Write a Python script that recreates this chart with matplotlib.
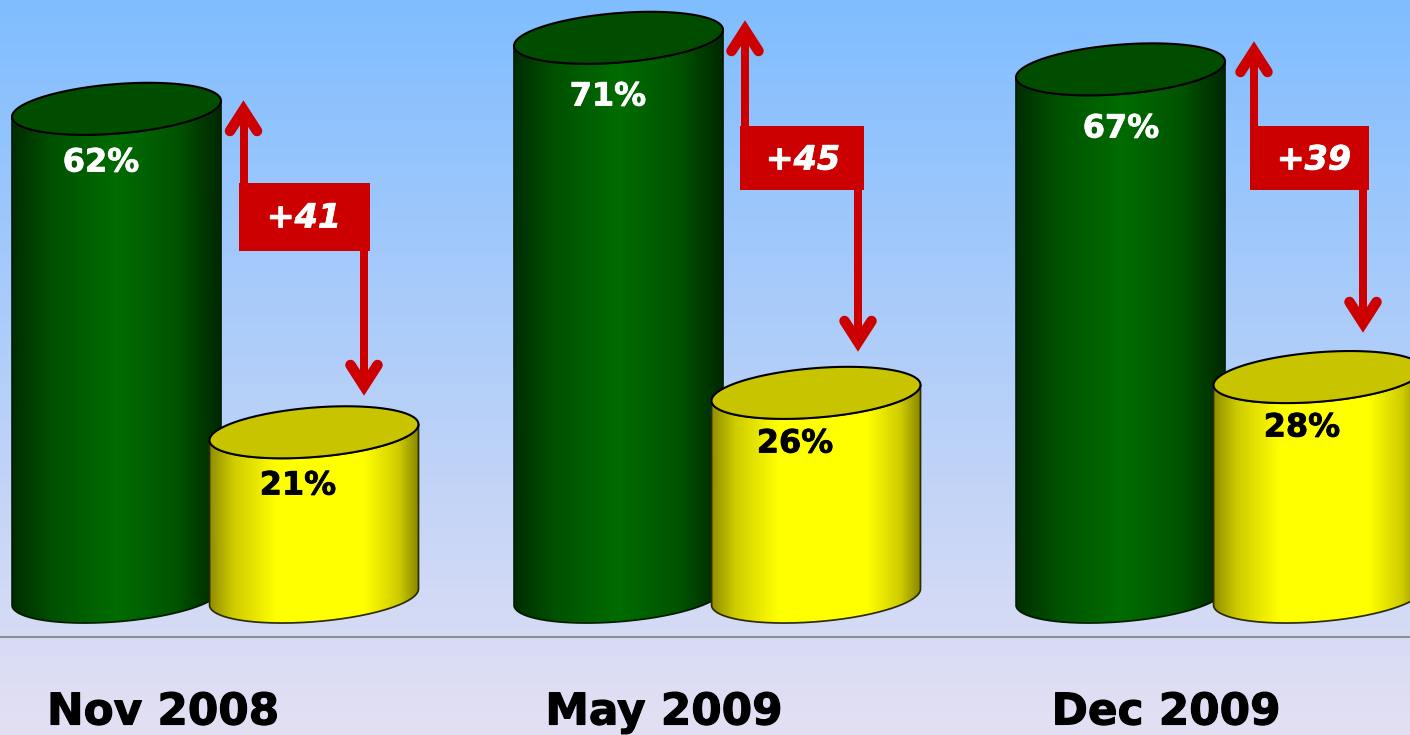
import numpy as np
import matplotlib
matplotlib.use("Agg")
import matplotlib.pyplot as plt
import matplotlib.patheffects as pe
from matplotlib.colors import LinearSegmentedColormap
from matplotlib.patches import PathPatch, Rectangle
from matplotlib.path import Path

# values
dates = ["Nov 2008", "May 2009", "Dec 2009"]
green_vals = [62, 71, 67]
yellow_vals = [21, 26, 28]

# layout in pixels of the 1410x735 picture
W, H = 1410, 735
BASE_Y = 605
PX_PER_PCT = 7.89
CYL_W = 208
green_left = [12, 514, 1016]
yellow_left = [209.5, 711.5, 1213.5]
green_label_xy = [(101, 163), (608, 97), (1121, 129)]
yellow_label_xy = [(298, 486), (795, 444), (1302, 428)]
date_x = [163, 664, 1166]
# box left, right, top, bottom
boxes = [(239, 370, 183, 251), (740, 864, 126, 190), (1250, 1369, 126, 190)]
delta_xy = [(304, 218), (803, 160), (1314, 160)]
up_arrows = [(243.5, 100), (745, 20), (1254, 41)]
down_arrows = [(364, 396), (858, 352), (1363, 333)]

RED = "#cc0000"
LW_SHAFT = 8 * 72 / 100
LW_HEAD = 10.5 * 72 / 100


def py(p):
    # pixel row -> percent on the y axis
    return (BASE_Y - p) / PX_PER_PCT


def ellipse_px(cx, cy, t):
    a, b, th = 104.8, 24.7, np.radians(4.63)
    x = a * np.cos(t) * np.cos(th) - b * np.sin(t) * np.sin(th)
    y = a * np.cos(t) * np.sin(th) + b * np.sin(t) * np.cos(th)
    return cx + x, cy - y


def gradient(ax, stops, box, clip):
    cmap = LinearSegmentedColormap.from_list("g", stops)
    img = cmap(np.linspace(0, 1, 256))[None, :, :]
    im = ax.imshow(img, extent=box, aspect="auto", interpolation="bilinear", zorder=clip.get_zorder())
    im.set_clip_path(clip)


def cylinder(ax, left, value, side_stops, top_color, edge, z):
    cx = left + CYL_W / 2 + 0.5
    top_cy = BASE_Y - value * PX_PER_PCT - 7
    bot_cy = BASE_Y - 8

    # the extreme left/right points of the tilted ellipse
    t = np.linspace(0, 2 * np.pi, 361)
    ex, _ = ellipse_px(0, 0, t)
    t_r = t[np.argmax(ex)]
    t_l = t[np.argmin(ex)]

    # body: top right, round the back of the top, down the left, under the bottom
    ts = np.linspace(t_r, t_l, 200) if t_l < t_r else np.linspace(t_r + 2 * np.pi, t_l, 200)
    tx, ty = ellipse_px(cx, top_cy, ts)
    tb = np.linspace(t_l, t_r if t_r > t_l else t_r + 2 * np.pi, 200)
    bx, by = ellipse_px(cx, bot_cy, tb)
    xs = np.r_[tx, bx, tx[0]]
    ys = py(np.r_[ty, by, ty[0]])
    body = PathPatch(Path(np.c_[xs, ys]), facecolor="none", edgecolor=edge, lw=1.25, zorder=z)
    ax.add_patch(body)
    gradient(ax, side_stops, [cx - 106, cx + 106, py(640), py(top_cy - 30)], body)
    body.set_zorder(z + 0.1)

    ex2, ey2 = ellipse_px(cx, top_cy, t)
    lid = PathPatch(Path(np.c_[ex2, py(ey2)]), facecolor=top_color, edgecolor="black", lw=1.5, zorder=z + 0.2)
    ax.add_patch(lid)


def arrow(ax, x, tip, box_edge, sign):
    # sign=+1 points up, sign=-1 points down
    vy = tip + sign * 10
    barb = tip + sign * 31
    ax.plot([x, x], py(np.array([box_edge, vy])), color=RED, lw=LW_SHAFT, solid_capstyle="butt", zorder=20)
    ax.plot([x - 13.5, x, x + 13.5], py(np.array([barb, vy, barb])), color=RED, lw=LW_HEAD,
            solid_capstyle="round", solid_joinstyle="miter", zorder=20)


def heavy(color, width):
    # the original face is heavier than DejaVu Bold
    return [pe.withStroke(linewidth=width, foreground=color)]


green_stops = [(0, "#002c00"), (0.2, "#005200"), (0.5, "#006c00"), (0.78, "#005400"), (1, "#002600")]
yellow_stops = [(0, "#8c8a00"), (0.12, "#cfcc00"), (0.32, "#ffff00"), (0.74, "#ffff00"),
                (0.9, "#cfcc00"), (1, "#858300")]

fig = plt.figure(figsize=(W / 100, H / 100), dpi=100)
ax = fig.add_axes([0, 0, 1, 1])

bg = LinearSegmentedColormap.from_list("bg", ["#80bdff", "#e4e0f3"])
ax.imshow(bg(np.linspace(0, 1, 256))[:, None, :], extent=[0, W, py(H), py(0)], aspect="auto", zorder=0)
ax.plot([0, W], [py(637), py(637)], color="#8f8f8f", lw=1.5, zorder=1)

for i in range(3):
    cylinder(ax, green_left[i], green_vals[i], green_stops, "#004d00", "#001c00", 5 + i)
    cylinder(ax, yellow_left[i], yellow_vals[i], yellow_stops, "#c8c400", "#2c2c00", 10 + i)

    l, r, t, b = boxes[i]
    ax.add_patch(Rectangle((l, py(b)), r - l, py(t) - py(b), facecolor=RED, edgecolor="none", zorder=20))
    arrow(ax, up_arrows[i][0], up_arrows[i][1], t + 2, 1)
    arrow(ax, down_arrows[i][0], down_arrows[i][1], b - 2, -1)

    gx, gy = green_label_xy[i]
    ax.text(gx, py(gy), f"{green_vals[i]}%", color="white", fontsize=23, fontweight="bold",
            ha="center", va="center", zorder=30, path_effects=heavy("white", 0.6))
    yx, yy = yellow_label_xy[i]
    ax.text(yx, py(yy), f"{yellow_vals[i]}%", color="black", fontsize=23, fontweight="bold",
            ha="center", va="center", zorder=30, path_effects=heavy("black", 0.6))
    dx, dy = delta_xy[i]
    ax.text(dx, py(dy), f"+{green_vals[i] - yellow_vals[i]}", color="white", fontsize=24, fontweight="bold",
            fontstyle="italic", ha="center", va="center", zorder=30, path_effects=heavy("white", 0.6))
    ax.text(date_x[i], py(712), dates[i], color="black", fontsize=31.5, fontweight="bold",
            ha="center", va="center", zorder=30, path_effects=heavy("black", 0.8))

ax.set_xlim(0, W)
ax.set_ylim(py(H), py(0))
ax.axis("off")

fig.savefig("out.png", dpi=100)
